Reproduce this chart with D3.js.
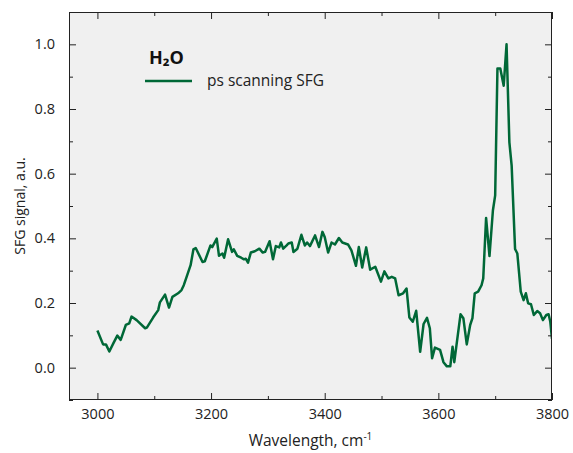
<!DOCTYPE html>
<html><head><meta charset="utf-8">
<script src="https://cdn.jsdelivr.net/npm/d3@7"></script>
<style>body{margin:0;background:#fff;} svg{display:block;font-family:"Open Sans","Noto Sans",sans-serif;}</style>
</head><body><svg id="c" width="573" height="453"></svg>
<script>
const wavenumber = [3000,3010,3015,3021,3028,3035,3041,3050,3056,3060,3069,3084,3087,3098,3107,3110,3119,3126,3132,3142,3148,3152,3157,3164,3169,3173,3185,3189,3199,3202,3210,3214,3220,3223,3230,3237,3240,3246,3253,3258,3261,3265,3270,3277,3285,3291,3295,3303,3309,3314,3320,3323,3327,3333,3336,3342,3345,3352,3359,3365,3369,3374,3383,3390,3396,3400,3406,3412,3418,3425,3431,3441,3447,3455,3460,3466,3473,3480,3489,3499,3505,3512,3518,3524,3530,3538,3544,3549,3555,3561,3568,3574,3580,3585,3589,3594,3603,3609,3615,3621,3625,3628,3639,3644,3650,3656,3660,3664,3670,3676,3679,3684,3690,3696,3700,3704,3709,3715,3720,3725,3729,3735,3739,3745,3750,3754,3758,3763,3768,3774,3779,3784,3790,3794,3797,3800];
const signal = [0.115,0.072,0.072,0.050,0.075,0.099,0.086,0.132,0.137,0.158,0.147,0.122,0.124,0.155,0.178,0.202,0.226,0.186,0.219,0.230,0.240,0.255,0.281,0.317,0.366,0.370,0.327,0.329,0.378,0.373,0.399,0.346,0.353,0.340,0.397,0.358,0.366,0.346,0.340,0.335,0.337,0.325,0.356,0.360,0.368,0.356,0.358,0.391,0.335,0.376,0.372,0.387,0.368,0.378,0.384,0.387,0.358,0.368,0.411,0.378,0.387,0.376,0.409,0.373,0.420,0.404,0.356,0.387,0.381,0.401,0.387,0.381,0.363,0.315,0.373,0.310,0.372,0.303,0.312,0.266,0.298,0.276,0.281,0.276,0.224,0.230,0.245,0.155,0.142,0.176,0.049,0.135,0.154,0.122,0.029,0.062,0.055,0.017,0.004,0.004,0.065,0.017,0.165,0.153,0.072,0.132,0.153,0.230,0.235,0.255,0.276,0.463,0.345,0.486,0.533,0.925,0.925,0.872,1.000,0.697,0.625,0.367,0.353,0.235,0.209,0.230,0.199,0.196,0.163,0.175,0.168,0.147,0.163,0.165,0.142,0.089];
const xTicks = [3000,3200,3400,3600,3800];
const xMinor = [3100,3300,3500,3700];
const yTicks = [0.0,0.2,0.4,0.6,0.8,1.0];
const yMinor = [-0.1,0.1,0.3,0.5,0.7,0.9];
const seriesName = "ps scanning SFG";
const legendTitle = "H₂O";

const L=69,R=552,T=12,B=400;
const svg=d3.select("#c");
const x=d3.scaleLinear().domain([2950,3800]).range([L,R]);
const y=d3.scaleLinear().domain([-0.1,1.1]).range([B,T]);
const color="#006837";

svg.append("rect").attr("x",L).attr("y",T).attr("width",R-L).attr("height",B-T).attr("fill","#f0f0f0");
svg.append("defs").append("clipPath").attr("id","cp").append("rect").attr("x",L).attr("y",T).attr("width",R-L).attr("height",B-T);

const data=wavenumber.map((w,i)=>[w,signal[i]]);
svg.append("path").datum(data).attr("clip-path","url(#cp)")
  .attr("fill","none").attr("stroke",color).attr("stroke-width",2.5).attr("stroke-linejoin","round")
  .attr("d",d3.line().x(d=>x(d[0])).y(d=>y(d[1])));

const fmt=d3.format(".1f");
function ax(gen,tr){return svg.append("g").attr("transform",tr).call(gen);}
ax(d3.axisBottom(x).tickValues(xTicks).tickSize(-7).tickPadding(9).tickFormat(d3.format("d")),`translate(0,${B})`);
ax(d3.axisBottom(x).tickValues(xMinor).tickSize(-4).tickFormat(""),`translate(0,${B})`);
ax(d3.axisTop(x).tickValues(xTicks).tickSize(-7).tickFormat(""),`translate(0,${T})`);
ax(d3.axisTop(x).tickValues(xMinor).tickSize(-4).tickFormat(""),`translate(0,${T})`);
ax(d3.axisLeft(y).tickValues(yTicks).tickSize(-7).tickPadding(14).tickFormat(fmt),`translate(${L},0)`);
ax(d3.axisLeft(y).tickValues(yMinor).tickSize(-4).tickFormat(""),`translate(${L},0)`);
ax(d3.axisRight(y).tickValues(yTicks).tickSize(-7).tickFormat(""),`translate(${R},0)`);
ax(d3.axisRight(y).tickValues(yMinor).tickSize(-4).tickFormat(""),`translate(${R},0)`);
svg.selectAll(".domain").remove();
svg.selectAll(".tick line").attr("stroke","#222");
svg.selectAll(".tick text").attr("font-size",14.5).attr("fill","#222").attr("font-family","'Open Sans','Noto Sans',sans-serif");
svg.append("rect").attr("x",L+0.5).attr("y",T+0.5).attr("width",R-L-1).attr("height",B-T-1).attr("fill","none").attr("stroke","#222").attr("stroke-width",1);

svg.append("text").attr("x",(L+R)/2).attr("y",446).attr("text-anchor","middle").attr("font-size",15.5).attr("fill","#222")
  .text("Wavelength, cm").append("tspan").attr("dy",-6).attr("font-size",10).text("-1");
svg.append("text").attr("transform",`translate(25,${(T+B)/2}) rotate(-90)`).attr("text-anchor","middle").attr("font-size",14).attr("fill","#222")
  .text("SFG signal, a.u.");

svg.append("text").attr("x",149).attr("y",64).attr("font-size",18).attr("font-weight","bold").attr("fill","#111").text(legendTitle);
svg.append("line").attr("x1",145).attr("x2",192).attr("y1",81).attr("y2",81).attr("stroke",color).attr("stroke-width",2.5);
svg.append("text").attr("x",207).attr("y",86).attr("font-size",15.5).attr("fill","#222").text(seriesName);
</script></body></html>
